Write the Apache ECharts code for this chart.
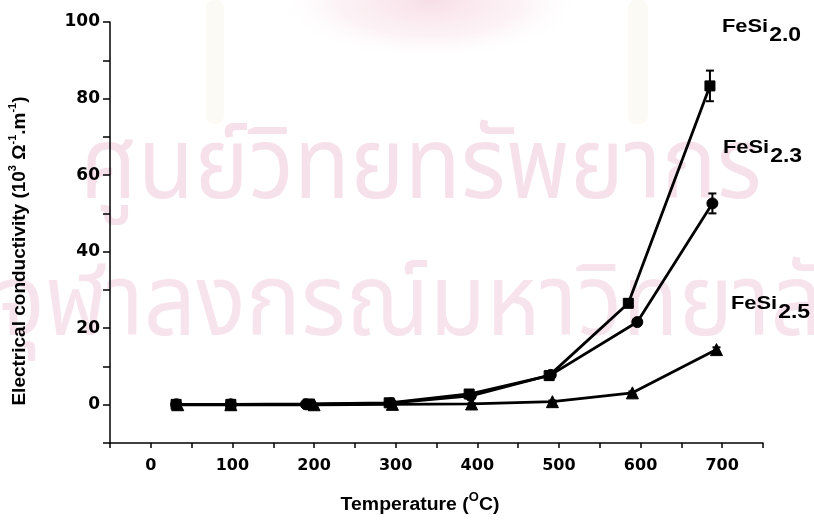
<!DOCTYPE html>
<html>
<head>
<meta charset="utf-8">
<script src="https://cdn.jsdelivr.net/npm/echarts@6/dist/echarts.min.js"></script>
<style>
  html, body { margin: 0; padding: 0; background: #fff; }
  #chart { width: 814px; height: 520px; }
</style>
</head>
<body>
<div id="chart"></div>
<script>
// Electrical conductivity of FeSi_x samples vs temperature
const tempFeSi20 = [31, 98, 193, 292, 390, 488, 585, 685];
const condFeSi20 = [0.1, 0.1, 0.2, 0.5, 2.8, 7.6, 26.5, 83.3];
const errFeSi20  = [0.3, 0.3, 0.3, 0.3, 0.5, 0.5, 1.0, 4.0];

const tempFeSi23 = [31, 98, 190, 294, 392, 490, 596, 688];
const condFeSi23 = [0.1, 0.1, 0.1, 0.4, 2.3, 7.8, 21.6, 52.6];
const errFeSi23  = [0.3, 0.3, 0.3, 0.3, 0.4, 0.5, 0.8, 2.6];

const tempFeSi25 = [33, 98, 200, 296, 393, 492, 590, 693];
const condFeSi25 = [0.0, 0.0, 0.0, 0.1, 0.2, 0.8, 3.1, 14.4];
const errFeSi25  = [0.2, 0.2, 0.2, 0.2, 0.2, 0.3, 0.4, 0.6];

const seriesBase = ['FeSi', 'FeSi', 'FeSi'];
const seriesIndex = ['2.0', '2.3', '2.5'];
const xTickValues = [0, 100, 200, 300, 400, 500, 600, 700];
const yTickValues = [0, 20, 40, 60, 80, 100];

const FONT = '"Liberation Sans", Arial, sans-serif';
const TICK_FONT = '"DejaVu Sans", "Liberation Sans", sans-serif';
const THAI_FONT = '"Noto Sans Thai", "Noto Sans", sans-serif';
const INK = '#000';

function pairs(xs, ys) { return xs.map((x, i) => [x, ys[i]]); }
function errRows(xs, ys, es) { return xs.map((x, i) => [x, ys[i] - es[i], ys[i] + es[i]]); }

function errorBarSeries(rows) {
  return {
    type: 'custom',
    silent: true,
    z: 3,
    data: rows,
    renderItem: function (params, api) {
      const x = api.value(0);
      const lo = api.coord([x, api.value(1)]);
      const hi = api.coord([x, api.value(2)]);
      const cap = 4;
      const st = { stroke: INK, lineWidth: 2 };
      return {
        type: 'group',
        children: [
          { type: 'line', shape: { x1: lo[0], y1: lo[1], x2: hi[0], y2: hi[1] }, style: st },
          { type: 'line', shape: { x1: lo[0] - cap, y1: lo[1], x2: lo[0] + cap, y2: lo[1] }, style: st },
          { type: 'line', shape: { x1: hi[0] - cap, y1: hi[1], x2: hi[0] + cap, y2: hi[1] }, style: st }
        ]
      };
    }
  };
}

function lineSeries(name, data, symbol, size) {
  return {
    name: name,
    type: 'line',
    data: data,
    symbol: symbol,
    symbolSize: size,
    showAllSymbol: true,
    z: 4,
    lineStyle: { color: INK, width: 2.8 },
    itemStyle: { color: INK, borderColor: INK, borderWidth: 1 },
    emphasis: { disabled: true }
  };
}

// text width helper for placing subscripts after the base text
const measureCtx = document.createElement('canvas').getContext('2d');
function textWidth(str, size) {
  measureCtx.font = 'bold ' + size + 'px ' + FONT;
  return measureCtx.measureText(str).width;
}

const LABEL_SCALE = 1.15;
function compositionLabel(idx, x, yMid) {
  const baseSize = 19, subSize = 20;
  const w = textWidth(seriesBase[idx], baseSize) * LABEL_SCALE;
  return [
    {
      type: 'text', x: x, y: yMid, scaleX: LABEL_SCALE, silent: true,
      style: { text: seriesBase[idx], fontFamily: FONT, fontWeight: 'bold', fontSize: baseSize, fill: INK, verticalAlign: 'middle' }
    },
    {
      type: 'text', x: x + w + 1, y: yMid + 8, scaleX: LABEL_SCALE, silent: true,
      style: { text: seriesIndex[idx], fontFamily: FONT, fontWeight: 'bold', fontSize: subSize, fill: INK, verticalAlign: 'middle' }
    }
  ];
}

const chart = echarts.init(document.getElementById('chart'), null, { renderer: 'canvas' });

const watermark = [
  // faint emblem glow and tassels at the top of the page
  {
    type: 'circle', z: -11, silent: true, x: 430, y: 0, scaleX: 2.5,
    shape: { cx: 0, cy: 0, r: 62 },
    style: {
      fill: {
        type: 'radial', x: 0.5, y: 0.5, r: 0.5,
        colorStops: [
          { offset: 0, color: 'rgba(205, 50, 100, 0.16)' },
          { offset: 0.6, color: 'rgba(225, 120, 150, 0.09)' },
          { offset: 1, color: 'rgba(255, 255, 255, 0)' }
        ]
      }
    }
  },
  {
    type: 'rect', z: -11, silent: true,
    shape: { x: 206, y: 0, width: 18, height: 124, r: 8 },
    style: { fill: 'rgba(215, 190, 120, 0.08)' }
  },
  {
    type: 'rect', z: -11, silent: true,
    shape: { x: 628, y: 0, width: 20, height: 124, r: 8 },
    style: { fill: 'rgba(215, 190, 120, 0.08)' }
  },
  {
    type: 'text', z: -10, silent: true, x: 80, y: 128, scaleX: 0.92,
    style: { text: 'ศูนย์วิทยทรัพยากร', fontSize: 100, fontFamily: THAI_FONT, fill: 'rgba(196, 60, 120, 0.16)', verticalAlign: 'top' }
  },
  {
    type: 'text', z: -10, silent: true, x: -4, y: 265, scaleX: 0.92,
    style: { text: 'จุฬาลงกรณ์มหาวิทยาลัย', fontSize: 100, fontFamily: THAI_FONT, fill: 'rgba(196, 60, 120, 0.14)', verticalAlign: 'top' }
  }
];

const option = {
  backgroundColor: '#fff',
  animation: false,
  grid: { left: 110, right: 51, top: 22, bottom: 77, containLabel: false },
  xAxis: {
    type: 'value',
    min: -50,
    max: 750,
    interval: 50,
    splitLine: { show: false },
    axisLine: { onZero: false, lineStyle: { color: INK, width: 1.5 } },
    axisTick: { inside: false, length: 5, lineStyle: { color: INK, width: 1.5 } },
    axisLabel: {
      margin: 15,
      fontFamily: TICK_FONT, fontWeight: 'bold', fontSize: 16, color: INK,
      formatter: function (v) { return xTickValues.indexOf(v) >= 0 ? String(v) : ''; }
    }
  },
  yAxis: {
    type: 'value',
    min: -10,
    max: 100,
    interval: 10,
    splitLine: { show: false },
    axisLine: { onZero: false, lineStyle: { color: INK, width: 1.5 } },
    axisTick: { inside: false, length: 7, lineStyle: { color: INK, width: 1.5 } },
    axisLabel: {
      margin: 10,
      fontFamily: TICK_FONT, fontWeight: 'bold', fontSize: 17, color: INK,
      formatter: function (v) { return yTickValues.indexOf(v) >= 0 ? String(v) : ''; }
    }
  },
  graphic: watermark.concat(
    compositionLabel(0, 722, 27),
    compositionLabel(1, 723, 148),
    compositionLabel(2, 731, 304),
    [
      // axis titles
      {
        type: 'text', x: 18, y: 251, rotation: Math.PI / 2, silent: true,
        style: {
          text: '{t|Electrical conductivity (10}{p|3}{t| Ω}{p|-1}{t|.m}{p|-1}{t|)}',
          align: 'center', verticalAlign: 'middle',
          rich: {
            t: { fontFamily: FONT, fontWeight: 'bold', fontSize: 19, color: INK, lineHeight: 22, verticalAlign: 'bottom' },
            p: { fontFamily: FONT, fontWeight: 'bold', fontSize: 11, color: INK, lineHeight: 22, verticalAlign: 'top' }
          }
        }
      },
      {
        type: 'text', x: 420, y: 503, scaleX: 1.08, silent: true,
        style: {
          text: '{t|Temperature (}{p|O}{t|C)}',
          align: 'center', verticalAlign: 'middle',
          rich: {
            t: { fontFamily: FONT, fontWeight: 'bold', fontSize: 18, color: INK, lineHeight: 23, verticalAlign: 'bottom' },
            p: { fontFamily: FONT, fontWeight: 'bold', fontSize: 12, color: INK, lineHeight: 23, verticalAlign: 'top' }
          }
        }
      }
    ]
  ),
  series: [
    errorBarSeries(errRows(tempFeSi20, condFeSi20, errFeSi20)),
    errorBarSeries(errRows(tempFeSi23, condFeSi23, errFeSi23)),
    errorBarSeries(errRows(tempFeSi25, condFeSi25, errFeSi25)),
    lineSeries('FeSi2.0', pairs(tempFeSi20, condFeSi20), 'rect', 10),
    lineSeries('FeSi2.3', pairs(tempFeSi23, condFeSi23), 'circle', 11),
    lineSeries('FeSi2.5', pairs(tempFeSi25, condFeSi25), 'triangle', 12)
  ]
};

chart.setOption(option);
</script>
</body>
</html>
